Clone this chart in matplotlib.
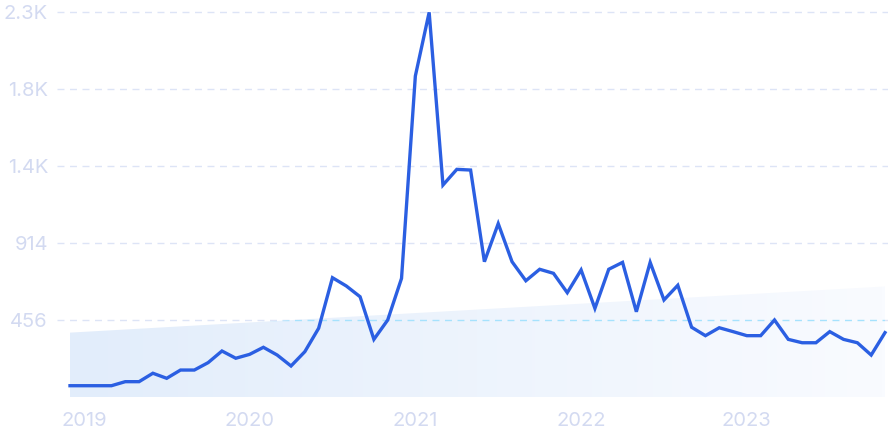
#!/usr/bin/env python3
"""Monthly search-interest style line chart with trend band."""

import matplotlib as mpl

mpl.use("Agg")
import matplotlib.pyplot as plt
import numpy as np
from matplotlib.colors import LinearSegmentedColormap

# monthly values, Dec 2018 .. Nov 2023
values = [
    67, 67, 67, 67, 91, 91, 141, 111, 160, 160,
    204, 273, 230, 253, 295, 249, 184, 269, 408, 708,
    659, 595, 342, 457, 704, 1905, 2283, 1258, 1351, 1347,
    803, 1029, 803, 690, 758, 734, 619, 754, 526, 758,
    799, 506, 799, 576, 663, 414, 364, 411, 388, 364,
    364, 457, 342, 322, 322, 388, 342, 322, 249, 382,
]
trend_start = 382
trend_end = 656

year_labels = ["2019", "2020", "2021", "2022", "2023"]
year_positions = [1, 13, 25, 37, 49]

ytick_values = [457, 914, 1371, 1828, 2285]
ytick_labels = ["456", "914", "1.4K", "1.8K", "2.3K"]

LINE_COLOR = "#2b5fe2"
LABEL_COLOR = "#d3daf1"
GRID_COLOR = "#dde4f6"


def main() -> None:
    mpl.rcParams["font.family"] = ["Inter", "DejaVu Sans"]

    fig = plt.figure(figsize=(8.88, 4.43), dpi=100)
    ax = fig.add_axes([57 / 888, 46 / 443, 831 / 888, 392 / 443])

    n = len(values)
    x = np.arange(n)
    y = np.asarray(values, dtype=float)

    # trend band with a soft horizontal gradient
    trend = np.linspace(trend_start, trend_end, n)
    band = ax.fill_between(x, 0, trend, color="none", linewidth=0, zorder=1)
    cmap = LinearSegmentedColormap.from_list("band", ["#e2edfb", "#f9fbff"])
    grad = np.linspace(0, 1, 256).reshape(1, -1)
    img = ax.imshow(
        grad,
        cmap=cmap,
        aspect="auto",
        extent=(0, n - 1, 0, trend_end),
        origin="lower",
        zorder=1,
    )
    img.set_clip_path(band.get_paths()[0], transform=ax.transData)

    # gridlines
    for v in ytick_values:
        ax.axhline(v, color=GRID_COLOR, linewidth=1.0, dashes=(5, 4), zorder=0)
    cyan = ax.axhline(
        ytick_values[0], color="#a6e2fd", linewidth=1.0, dashes=(5, 4), zorder=2
    )
    cyan.set_clip_path(band.get_paths()[0], transform=ax.transData)

    ax.plot(
        x,
        y,
        color=LINE_COLOR,
        linewidth=2.4,
        solid_joinstyle="miter",
        zorder=3,
        clip_on=False,
    )

    ax.set_xlim(-13 / 13.81, n - 1 + 3 / 13.81)
    ax.set_ylim(0, 2285 + 7 * 5.935)

    ax.set_yticks(ytick_values)
    ax.set_yticklabels(ytick_labels)
    ax.set_xticks(year_positions)
    ax.set_xticklabels(year_labels)
    ax.tick_params(axis="y", length=0, pad=6.5, labelsize=14.5, labelcolor=LABEL_COLOR)
    ax.tick_params(axis="x", length=0, pad=11, labelsize=14.5, labelcolor=LABEL_COLOR)

    for spine in ax.spines.values():
        spine.set_visible(False)
    ax.patch.set_alpha(0)

    fig.savefig("out.png", dpi=100)


if __name__ == "__main__":
    main()
